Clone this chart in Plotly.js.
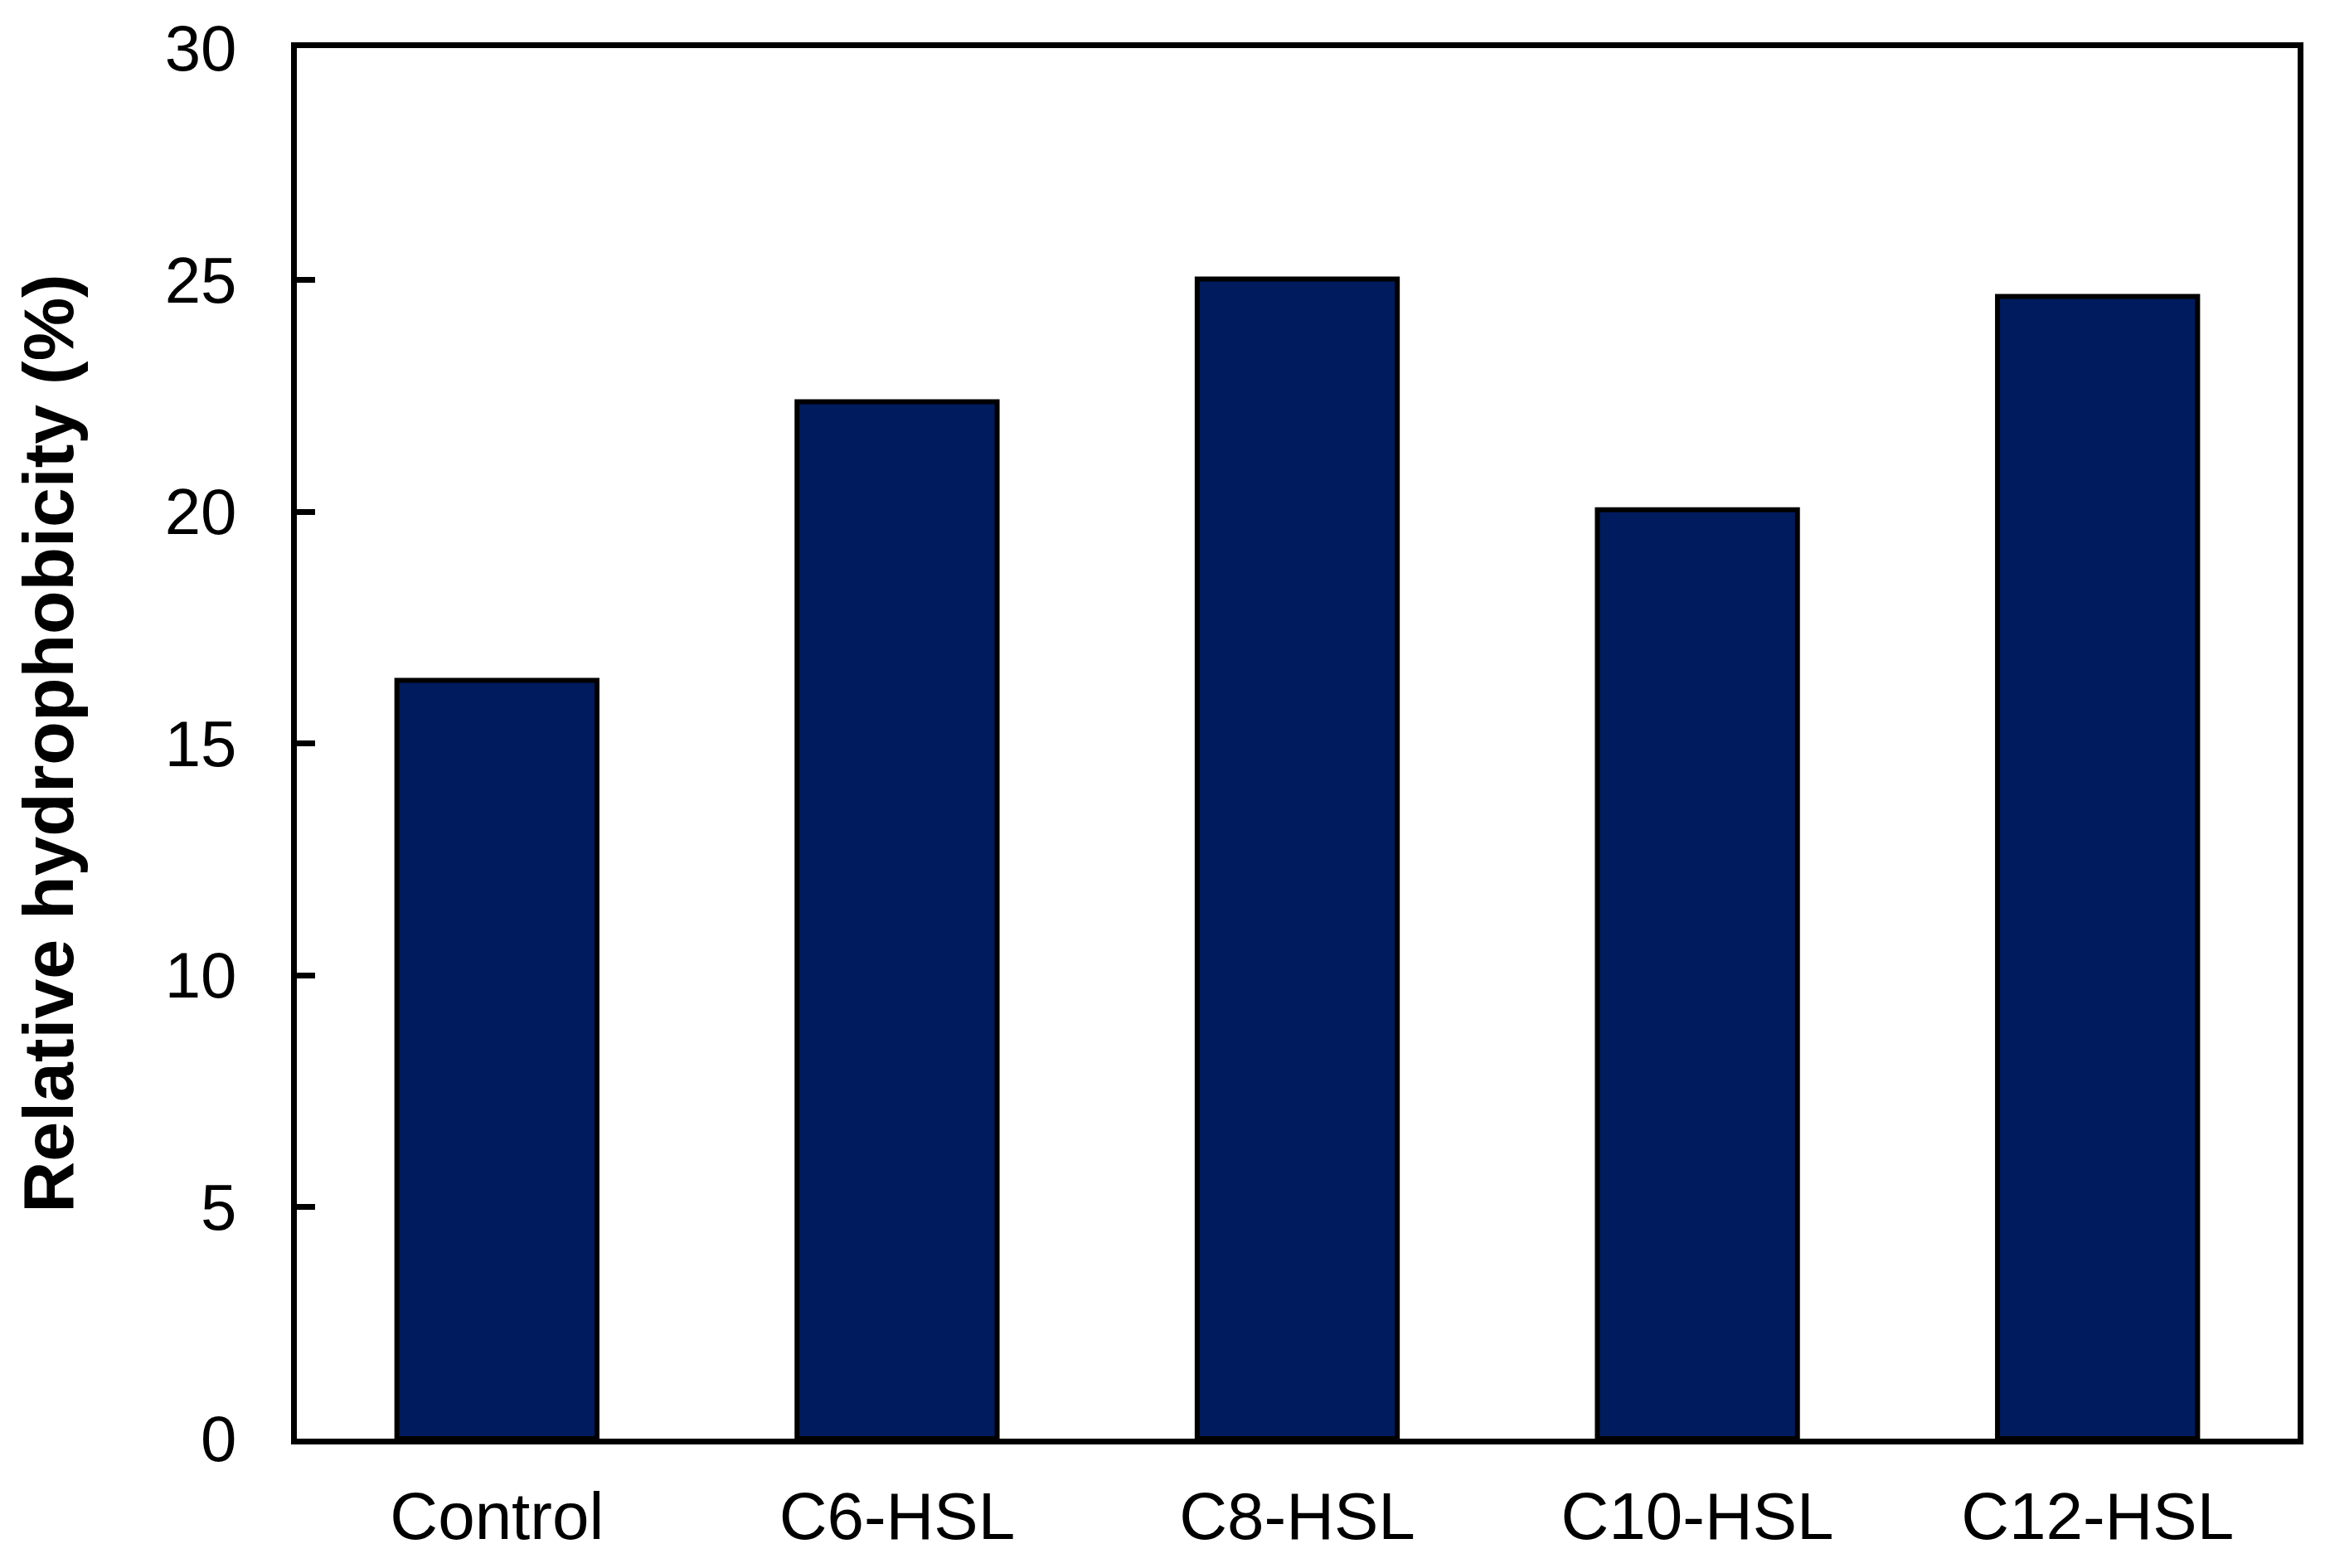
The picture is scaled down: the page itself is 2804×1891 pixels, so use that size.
<!DOCTYPE html>
<html>
<head>
<meta charset="utf-8">
<script src="https://cdn.plot.ly/plotly-3.0.1.min.js"></script>
<style>
html, body { margin: 0; padding: 0; background: #ffffff; }
#chart { width: 2804px; height: 1891px; }
</style>
</head>
<body>
<div id="chart"></div>
<script>
const categories = ["Control", "C6-HSL", "C8-HSL", "C10-HSL", "C12-HSL"];
const hydrophobicity = [16.36, 22.37, 25.02, 20.04, 24.64];
const yTickValues = [0, 5, 10, 15, 20, 25, 30];
const yAxisTitle = "Relative hydrophobicity (%)";

const trace = {
  type: "bar",
  x: categories,
  y: hydrophobicity,
  width: 0.5,
  marker: {
    color: "#001B5E",
    line: { color: "#000000", width: 6 }
  },
  hoverinfo: "x+y"
};

const layout = {
  width: 2804,
  height: 1891,
  margin: { l: 358, r: 33, t: 58, b: 156, pad: 0 },
  paper_bgcolor: "#ffffff",
  plot_bgcolor: "#ffffff",
  showlegend: false,
  font: { family: "Liberation Sans, Arial, sans-serif", color: "#000000" },
  xaxis: {
    type: "category",
    showline: true,
    linecolor: "#000000",
    linewidth: 7,
    mirror: true,
    showgrid: false,
    zeroline: false,
    ticks: "",
    tickfont: { size: 80, family: "Liberation Sans, Arial, sans-serif", color: "#000000" },
    ticklabelstandoff: 18,
    fixedrange: true
  },
  yaxis: {
    range: [0, 30],
    tickvals: yTickValues,
    ticktext: yTickValues.map(String),
    showline: true,
    linecolor: "#000000",
    linewidth: 7,
    mirror: true,
    showgrid: false,
    zeroline: false,
    ticks: "inside",
    ticklen: 22,
    tickwidth: 7,
    tickcolor: "#000000",
    tickfont: { size: 78, family: "Liberation Sans, Arial, sans-serif", color: "#000000" },
    ticklabelstandoff: 50,
    title: {
      text: yAxisTitle,
      font: { size: 86, family: "Liberation Sans, Arial, sans-serif", color: "#000000", weight: "bold" },
      standoff: 84
    },
    fixedrange: true
  }
};

Plotly.newPlot("chart", [trace], layout, { displayModeBar: false, staticPlot: true });
</script>
</body>
</html>
